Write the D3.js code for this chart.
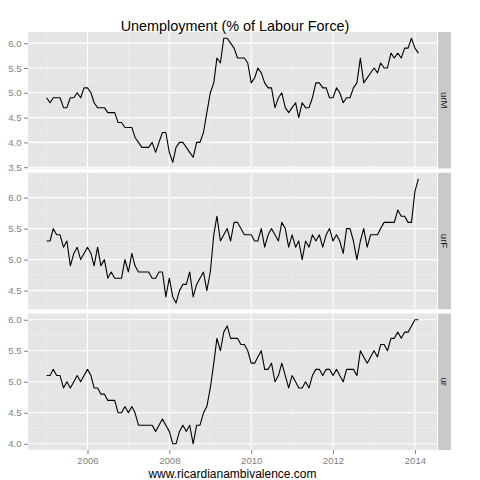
<!DOCTYPE html>
<html>
<head>
<meta charset="utf-8">
<script src="https://cdn.jsdelivr.net/npm/d3@7"></script>
<style>
  body { margin: 0; background: #ffffff; }
  svg { display: block; font-family: "Liberation Sans", Arial, Helvetica, sans-serif; }
</style>
</head>
<body>
<div id="chart"></div>
<script>
// monthly series, Jan 2005 .. Feb 2014
const startMonth = new Date(2005, 0, 1);
const endMonth = new Date(2014, 2, 1);

const facetNames = ["urM", "urF", "ur"];

const urM = [
  4.9,4.8,4.9,4.9,4.9,4.7,4.7,4.9,4.9,5.0,4.9,5.1,
  5.1,5.0,4.8,4.7,4.7,4.7,4.6,4.6,4.6,4.4,4.4,4.3,
  4.3,4.3,4.1,4.0,3.9,3.9,3.9,4.0,3.8,4.0,4.2,4.2,
  3.8,3.6,3.9,4.0,4.0,3.9,3.8,3.7,4.0,4.0,4.2,4.6,
  5.0,5.2,5.7,5.6,6.1,6.1,6.0,5.9,5.7,5.7,5.7,5.6,
  5.2,5.3,5.5,5.4,5.2,5.1,5.1,4.7,4.9,5.0,4.7,4.6,
  4.7,4.8,4.5,4.8,4.7,4.7,4.9,5.2,5.2,5.1,5.1,4.9,
  4.9,5.1,5.0,4.8,4.9,4.9,5.1,5.2,5.7,5.2,5.3,5.4,
  5.5,5.4,5.6,5.5,5.5,5.8,5.7,5.8,5.7,5.9,5.9,6.1,
  5.9,5.8
];

const urF = [
  5.3,5.3,5.5,5.4,5.4,5.2,5.3,4.9,5.1,5.2,5.0,5.1,
  5.2,5.1,4.9,5.2,4.9,5.0,4.7,4.8,4.7,4.7,4.7,5.0,
  4.8,5.1,4.9,4.8,4.8,4.8,4.8,4.7,4.7,4.8,4.8,4.4,
  4.7,4.4,4.3,4.5,4.6,4.6,4.8,4.4,4.6,4.7,4.8,4.5,
  4.8,5.4,5.7,5.3,5.4,5.5,5.3,5.6,5.6,5.5,5.4,5.4,
  5.4,5.3,5.3,5.5,5.2,5.4,5.5,5.4,5.3,5.6,5.5,5.2,
  5.4,5.2,5.3,5.0,5.3,5.2,5.4,5.3,5.4,5.2,5.4,5.5,
  5.3,5.4,5.3,5.1,5.5,5.5,5.3,5.0,5.3,5.5,5.2,5.4,
  5.4,5.4,5.5,5.6,5.6,5.6,5.6,5.8,5.7,5.7,5.6,5.6,
  6.1,6.3
];

const ur = [
  5.1,5.1,5.2,5.1,5.1,4.9,5.0,4.9,5.0,5.1,5.0,5.1,
  5.2,5.1,4.9,4.9,4.8,4.8,4.7,4.7,4.7,4.5,4.5,4.6,
  4.5,4.6,4.5,4.3,4.3,4.3,4.3,4.3,4.2,4.3,4.4,4.3,
  4.2,4.0,4.0,4.2,4.3,4.2,4.3,4.0,4.3,4.3,4.5,4.6,
  4.9,5.3,5.7,5.5,5.8,5.9,5.7,5.7,5.7,5.6,5.6,5.5,
  5.3,5.3,5.4,5.5,5.2,5.2,5.3,5.0,5.1,5.3,5.1,4.9,
  5.1,5.0,4.9,4.9,5.0,4.9,5.1,5.2,5.2,5.1,5.2,5.2,
  5.1,5.2,5.1,5.0,5.2,5.2,5.2,5.1,5.5,5.4,5.3,5.4,
  5.5,5.4,5.6,5.6,5.5,5.7,5.7,5.8,5.7,5.8,5.8,5.9,
  6.0,6.0
];

const seriesList = [urM, urF, ur];

// y breaks per facet (free scales)
const yTicksM = [3.5, 4.0, 4.5, 5.0, 5.5, 6.0];
const yTicksF = [4.5, 5.0, 5.5, 6.0];
const yTicksAll = [4.0, 4.5, 5.0, 5.5, 6.0];
const yTickList = [yTicksM, yTicksF, yTicksAll];

const xTickYears = [2006, 2008, 2010, 2012, 2014];
const xMinorYears = [2005, 2007, 2009, 2011, 2013];

const titleText = "Unemployment (% of Labour Force)";
const xTitleText = "www.ricardianambivalence.com";

// layout
const W = 480, H = 480;
const margin = {top: 32, right: 29, bottom: 30, left: 28};
const stripGap = 1, stripW = 13, panelGap = 4.3;
const panelRight = W - margin.right - stripW - stripGap;
const panelH = (H - margin.top - margin.bottom - 2 * panelGap) / 3;

const grey50 = "#7f7f7f";

const months = d3.timeMonth.range(startMonth, endMonth);

const svg = d3.select("#chart").append("svg")
    .attr("width", W)
    .attr("height", H);

// x scale with ggplot style 5% expansion
const xExt = d3.extent(months);
const xPad = (xExt[1] - xExt[0]) * 0.05;
const x = d3.scaleTime()
    .domain([new Date(+xExt[0] - xPad), new Date(+xExt[1] + xPad)])
    .range([margin.left, panelRight]);

const line = d3.line();

seriesList.forEach((vals, k) => {
    const top = margin.top + k * (panelH + panelGap);
    const bottom = top + panelH;

    const ext = d3.extent(vals);
    const pad = (ext[1] - ext[0]) * 0.05;
    const y = d3.scaleLinear()
        .domain([ext[0] - pad, ext[1] + pad])
        .range([bottom, top]);

    const g = svg.append("g").attr("class", "panel");

    g.append("rect")
        .attr("x", margin.left)
        .attr("y", top)
        .attr("width", panelRight - margin.left)
        .attr("height", panelH)
        .attr("fill", "#e5e5e5");

    // minor grid
    const yt = yTickList[k];
    const yMinor = [];
    for (let i = 0; i < yt.length - 1; i++) yMinor.push((yt[i] + yt[i + 1]) / 2);
    yMinor.push(yt[0] - 0.25, yt[yt.length - 1] + 0.25);
    const dom = y.domain();

    g.append("g").selectAll("line")
        .data(yMinor.filter(v => v > dom[0] && v < dom[1]))
        .join("line")
        .attr("x1", margin.left).attr("x2", panelRight)
        .attr("y1", d => y(d)).attr("y2", d => y(d))
        .attr("stroke", "#f2f2f2").attr("stroke-width", 0.55);

    g.append("g").selectAll("line")
        .data(xMinorYears.map(yr => new Date(yr, 0, 1)))
        .join("line")
        .attr("x1", d => x(d)).attr("x2", d => x(d))
        .attr("y1", top).attr("y2", bottom)
        .attr("stroke", "#f2f2f2").attr("stroke-width", 0.55);

    // major grid
    g.append("g").selectAll("line")
        .data(yt)
        .join("line")
        .attr("x1", margin.left).attr("x2", panelRight)
        .attr("y1", d => y(d)).attr("y2", d => y(d))
        .attr("stroke", "#ffffff").attr("stroke-width", 1.1);

    g.append("g").selectAll("line")
        .data(xTickYears.map(yr => new Date(yr, 0, 1)))
        .join("line")
        .attr("x1", d => x(d)).attr("x2", d => x(d))
        .attr("y1", top).attr("y2", bottom)
        .attr("stroke", "#ffffff").attr("stroke-width", 1.1);

    // the series
    g.append("path")
        .datum(vals)
        .attr("fill", "none")
        .attr("stroke", "#000000")
        .attr("stroke-width", 1.1)
        .attr("stroke-linejoin", "round")
        .attr("d", line.x((d, i) => x(months[i])).y(d => y(d)));

    // y axis
    const yAx = svg.append("g")
        .attr("transform", `translate(${margin.left},0)`)
        .call(d3.axisLeft(y).tickValues(yt).tickFormat(d3.format(".1f"))
            .tickSize(4).tickPadding(2.5));
    yAx.select(".domain").remove();
    yAx.selectAll(".tick line").attr("stroke", grey50);
    yAx.selectAll(".tick text")
        .attr("fill", grey50)
        .style("font-size", "9.6px");

    // strip on the right
    const sx = panelRight + stripGap;
    svg.append("rect")
        .attr("x", sx)
        .attr("y", top)
        .attr("width", stripW)
        .attr("height", panelH)
        .attr("fill", "#c9c9c9");
    svg.append("text")
        .attr("transform", `translate(${sx + stripW / 2},${top + panelH / 2}) rotate(90)`)
        .attr("text-anchor", "middle")
        .attr("dy", "0.35em")
        .attr("fill", "#1a1a1a")
        .style("font-size", "9.6px")
        .text(facetNames[k]);

    // x axis on the bottom panel only
    if (k === seriesList.length - 1) {
        const xAx = svg.append("g")
            .attr("transform", `translate(0,${bottom})`)
            .call(d3.axisBottom(x)
                .tickValues(xTickYears.map(yr => new Date(yr, 0, 1)))
                .tickFormat(d3.timeFormat("%Y"))
                .tickSize(4).tickPadding(3));
        xAx.select(".domain").remove();
        xAx.selectAll(".tick line").attr("stroke", grey50);
        xAx.selectAll(".tick text")
            .attr("fill", grey50)
            .style("font-size", "9.6px");
    }
});

// titles
svg.append("text")
    .attr("x", 235)
    .attr("y", 30.5)
    .attr("text-anchor", "middle")
    .style("font-size", "14.4px")
    .attr("fill", "#000")
    .text(titleText);

svg.append("text")
    .attr("x", (margin.left + panelRight) / 2)
    .attr("y", 477.5)
    .attr("text-anchor", "middle")
    .style("font-size", "12px")
    .attr("fill", "#000")
    .text(xTitleText);
</script>
</body>
</html>
